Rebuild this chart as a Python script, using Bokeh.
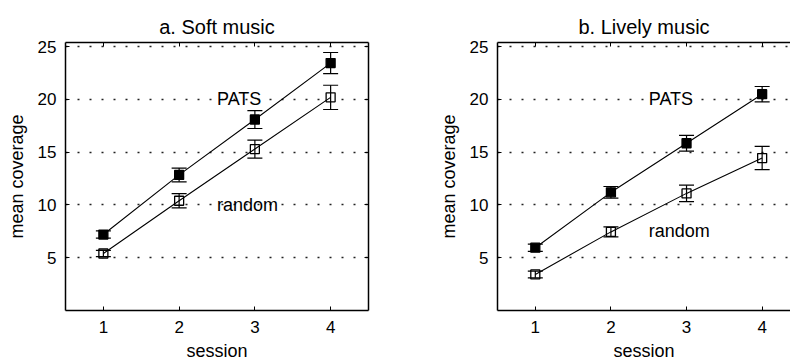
from bokeh.plotting import figure
from bokeh.models import (ColumnDataSource, Whisker, TeeHead, FixedTicker, Range1d,
                          LinearAxis, Label)
from bokeh.layouts import row
from bokeh.embed import file_html
from bokeh.resources import INLINE

# ---- data ----
sessions = [1, 2, 3, 4]
x_ticks = [1, 2, 3, 4]
y_ticks = [5, 10, 15, 20, 25]

soft_pats = [7.2, 12.85, 18.1, 23.45]
soft_pats_err = [0.35, 0.65, 0.85, 1.0]
soft_random = [5.4, 10.4, 15.3, 20.2]
soft_random_err = [0.3, 0.68, 0.85, 1.15]

lively_pats = [5.95, 11.2, 15.85, 20.5]
lively_pats_err = [0.35, 0.55, 0.75, 0.73]
lively_random = [3.42, 7.45, 11.1, 14.45]
lively_random_err = [0.32, 0.47, 0.78, 1.1]

titles = ["a. Soft music", "b. Lively music"]
FONT = "Liberation Sans"


def style_axis(ax, show_labels=True):
    ax.axis_line_color = "black"
    ax.axis_line_width = 1.5
    ax.major_tick_in = 4
    ax.major_tick_out = 0
    ax.major_tick_line_color = "black"
    ax.minor_tick_line_color = None
    ax.major_label_text_font = FONT
    ax.major_label_text_font_size = "17px" if show_labels else "0px"
    ax.major_label_text_color = "black" if show_labels else None
    ax.axis_label_text_font = FONT
    ax.axis_label_text_font_size = "18px"
    ax.axis_label_text_font_style = "normal"
    ax.axis_label_text_color = "black"


def make_panel(title, pats, pats_err, rnd, rnd_err, random_y, x_end,
               border_left, border_right, right_box, title_offset):
    p = figure(width=395, height=363, output_backend="svg", toolbar_location=None,
               x_range=Range1d(0.5, x_end), y_range=Range1d(0, 25.4),
               min_border_left=border_left, min_border_right=border_right,
               min_border_top=42, min_border_bottom=53)
    p.outline_line_color = None
    p.background_fill_color = "white"
    p.border_fill_color = "white"

    p.title.text = title
    p.title.align = "center"
    p.title.text_font = FONT
    p.title.text_font_size = "20px"
    p.title.text_font_style = "normal"
    p.title.text_color = "black"
    p.title.offset = title_offset

    p.xaxis.ticker = FixedTicker(ticks=x_ticks)
    p.yaxis.ticker = FixedTicker(ticks=y_ticks)
    p.xaxis.axis_label = "session"
    p.yaxis.axis_label = "mean coverage"
    style_axis(p.xaxis[0])
    style_axis(p.yaxis[0])
    p.xaxis.major_label_standoff = 10
    p.xaxis.axis_label_standoff = 5
    p.yaxis.major_label_standoff = 9
    p.yaxis.axis_label_standoff = 8

    top = LinearAxis(ticker=FixedTicker(ticks=x_ticks))
    style_axis(top, show_labels=False)
    top.major_label_standoff = 0
    p.add_layout(top, "above")
    if right_box:
        rax = LinearAxis(ticker=FixedTicker(ticks=y_ticks))
        style_axis(rax, show_labels=False)
        rax.major_label_standoff = 0
        p.add_layout(rax, "right")

    p.xgrid.grid_line_color = None
    p.ygrid.ticker = FixedTicker(ticks=y_ticks)
    p.ygrid.grid_line_color = "#222222"
    p.ygrid.grid_line_width = 1.6
    p.ygrid.grid_line_dash = "2 10"

    for vals, errs, fill in [(pats, pats_err, "black"), (rnd, rnd_err, "white")]:
        src = ColumnDataSource(dict(
            x=sessions, y=vals,
            lower=[v - e for v, e in zip(vals, errs)],
            upper=[v + e for v, e in zip(vals, errs)]))
        p.scatter("x", "y", source=src, marker="square", size=9,
                  fill_color=fill, line_color="black", line_width=1.3)
        p.line("x", "y", source=src, line_color="black", line_width=1.1)
        w = Whisker(base="x", upper="upper", lower="lower", source=src,
                    line_color="black", line_width=1.2, level="annotation",
                    upper_head=TeeHead(size=15, line_color="black", line_width=1.2),
                    lower_head=TeeHead(size=15, line_color="black", line_width=1.2))
        p.add_layout(w)

    p.add_layout(Label(x=2.5, y=20, text="PATS", text_font=FONT, text_font_size="18px",
                       text_baseline="middle", text_align="left", text_color="black"))
    p.add_layout(Label(x=2.5, y=random_y, text="random", text_font=FONT,
                       text_font_size="18px", text_baseline="middle",
                       text_align="left", text_color="black"))
    return p


left = make_panel(titles[0], soft_pats, soft_pats_err, soft_random, soft_random_err,
                  10, 4.5, 65, 27, True, 0)
right = make_panel(titles[1], lively_pats, lively_pats_err, lively_random,
                   lively_random_err, 7.5, 4.375, 102, 0, False, 4)

layout = row(left, right)
open("out.html", "w").write(file_html(layout, INLINE))
